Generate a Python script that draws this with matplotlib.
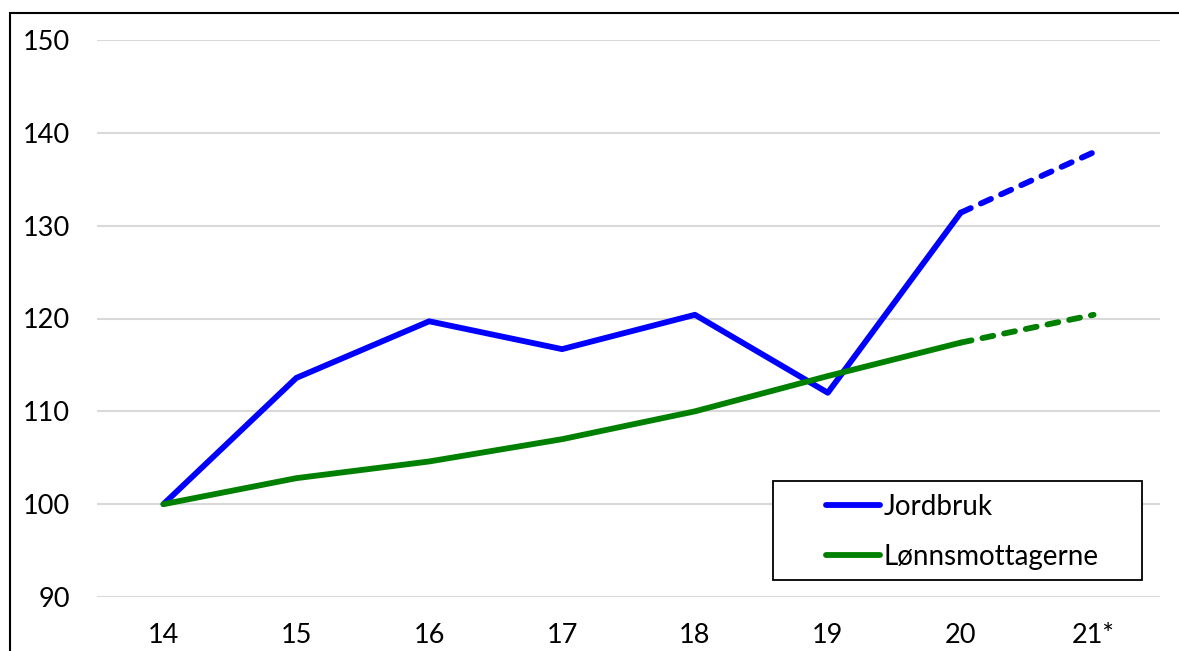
import matplotlib.pyplot as plt
from matplotlib.patches import Rectangle

plt.rcParams['font.family'] = ['Lato', 'DejaVu Sans']

years = ['14', '15', '16', '17', '18', '19', '20', '21*']
jordbruk = [100, 113.6, 119.7, 116.7, 120.4, 112.0, 131.4, 137.9]
lonn = [100, 102.8, 104.6, 107.0, 110.0, 113.8, 117.4, 120.4]
yticks = [90, 100, 110, 120, 130, 140, 150]

W, H = 1179, 651
fig = plt.figure(figsize=(W / 100, H / 100), dpi=100)
ax = fig.add_axes([97 / W, 54 / H, (1160 - 97) / W, (597 - 40) / H])

x = list(range(len(years)))
# last year is an estimate -> dashed segment
ax.plot(x[:7], jordbruk[:7], c='#0000FF', lw=4.2, solid_capstyle='round',
        solid_joinstyle='round', label='Jordbruk', zorder=3)
ax.plot(x[6:], jordbruk[6:], c='#0000FF', lw=4.2, dashes=(1.9, 1.9),
        dash_capstyle='round', zorder=3)
ax.plot(x[:7], lonn[:7], c='#008000', lw=4.2, solid_capstyle='round',
        solid_joinstyle='round', label='Lønnsmottagerne', zorder=3)
ax.plot(x[6:], lonn[6:], c='#008000', lw=4.2, dashes=(1.9, 1.9),
        dash_capstyle='round', zorder=3)

ax.set_xlim(-0.5, len(years) - 0.5)
ax.set_ylim(90, 150)
ax.set_xticks(x)
ax.set_xticklabels(years)
ax.set_yticks(yticks)
ax.tick_params(length=0, labelsize=19.5)
ax.tick_params(axis='x', pad=19)
ax.tick_params(axis='y', pad=19.5)
ax.grid(axis='y', color='#D9D9D9', lw=1.5)
ax.set_axisbelow(True)
for s in ax.spines.values():
    s.set_visible(False)

leg = ax.legend(loc='upper left', bbox_to_anchor=(826 / W, 1 - 494 / H),
                bbox_transform=fig.transFigure, fontsize=20, frameon=False,
                handlelength=1.95, handletextpad=0.12, borderpad=0, labelspacing=0.86,
                borderaxespad=0)
for h in leg.legend_handles:
    h.set_solid_capstyle('round')
# legend box
ax.add_patch(Rectangle((773 / W, 1 - 580 / H), (1142 - 773) / W, (580 - 481) / H,
                       transform=fig.transFigure, facecolor='white', edgecolor='black',
                       lw=1.3, zorder=4))
leg.set_zorder(5)

# outer chart border (only left and top edge are visible in the crop)
fig.patches.append(Rectangle((10 / W, -0.1), 1.2, 1.1 - 13 / H, transform=fig.transFigure,
                             fill=False, edgecolor='black', lw=1.5, clip_on=False))

fig.savefig('out.png', dpi=100)
